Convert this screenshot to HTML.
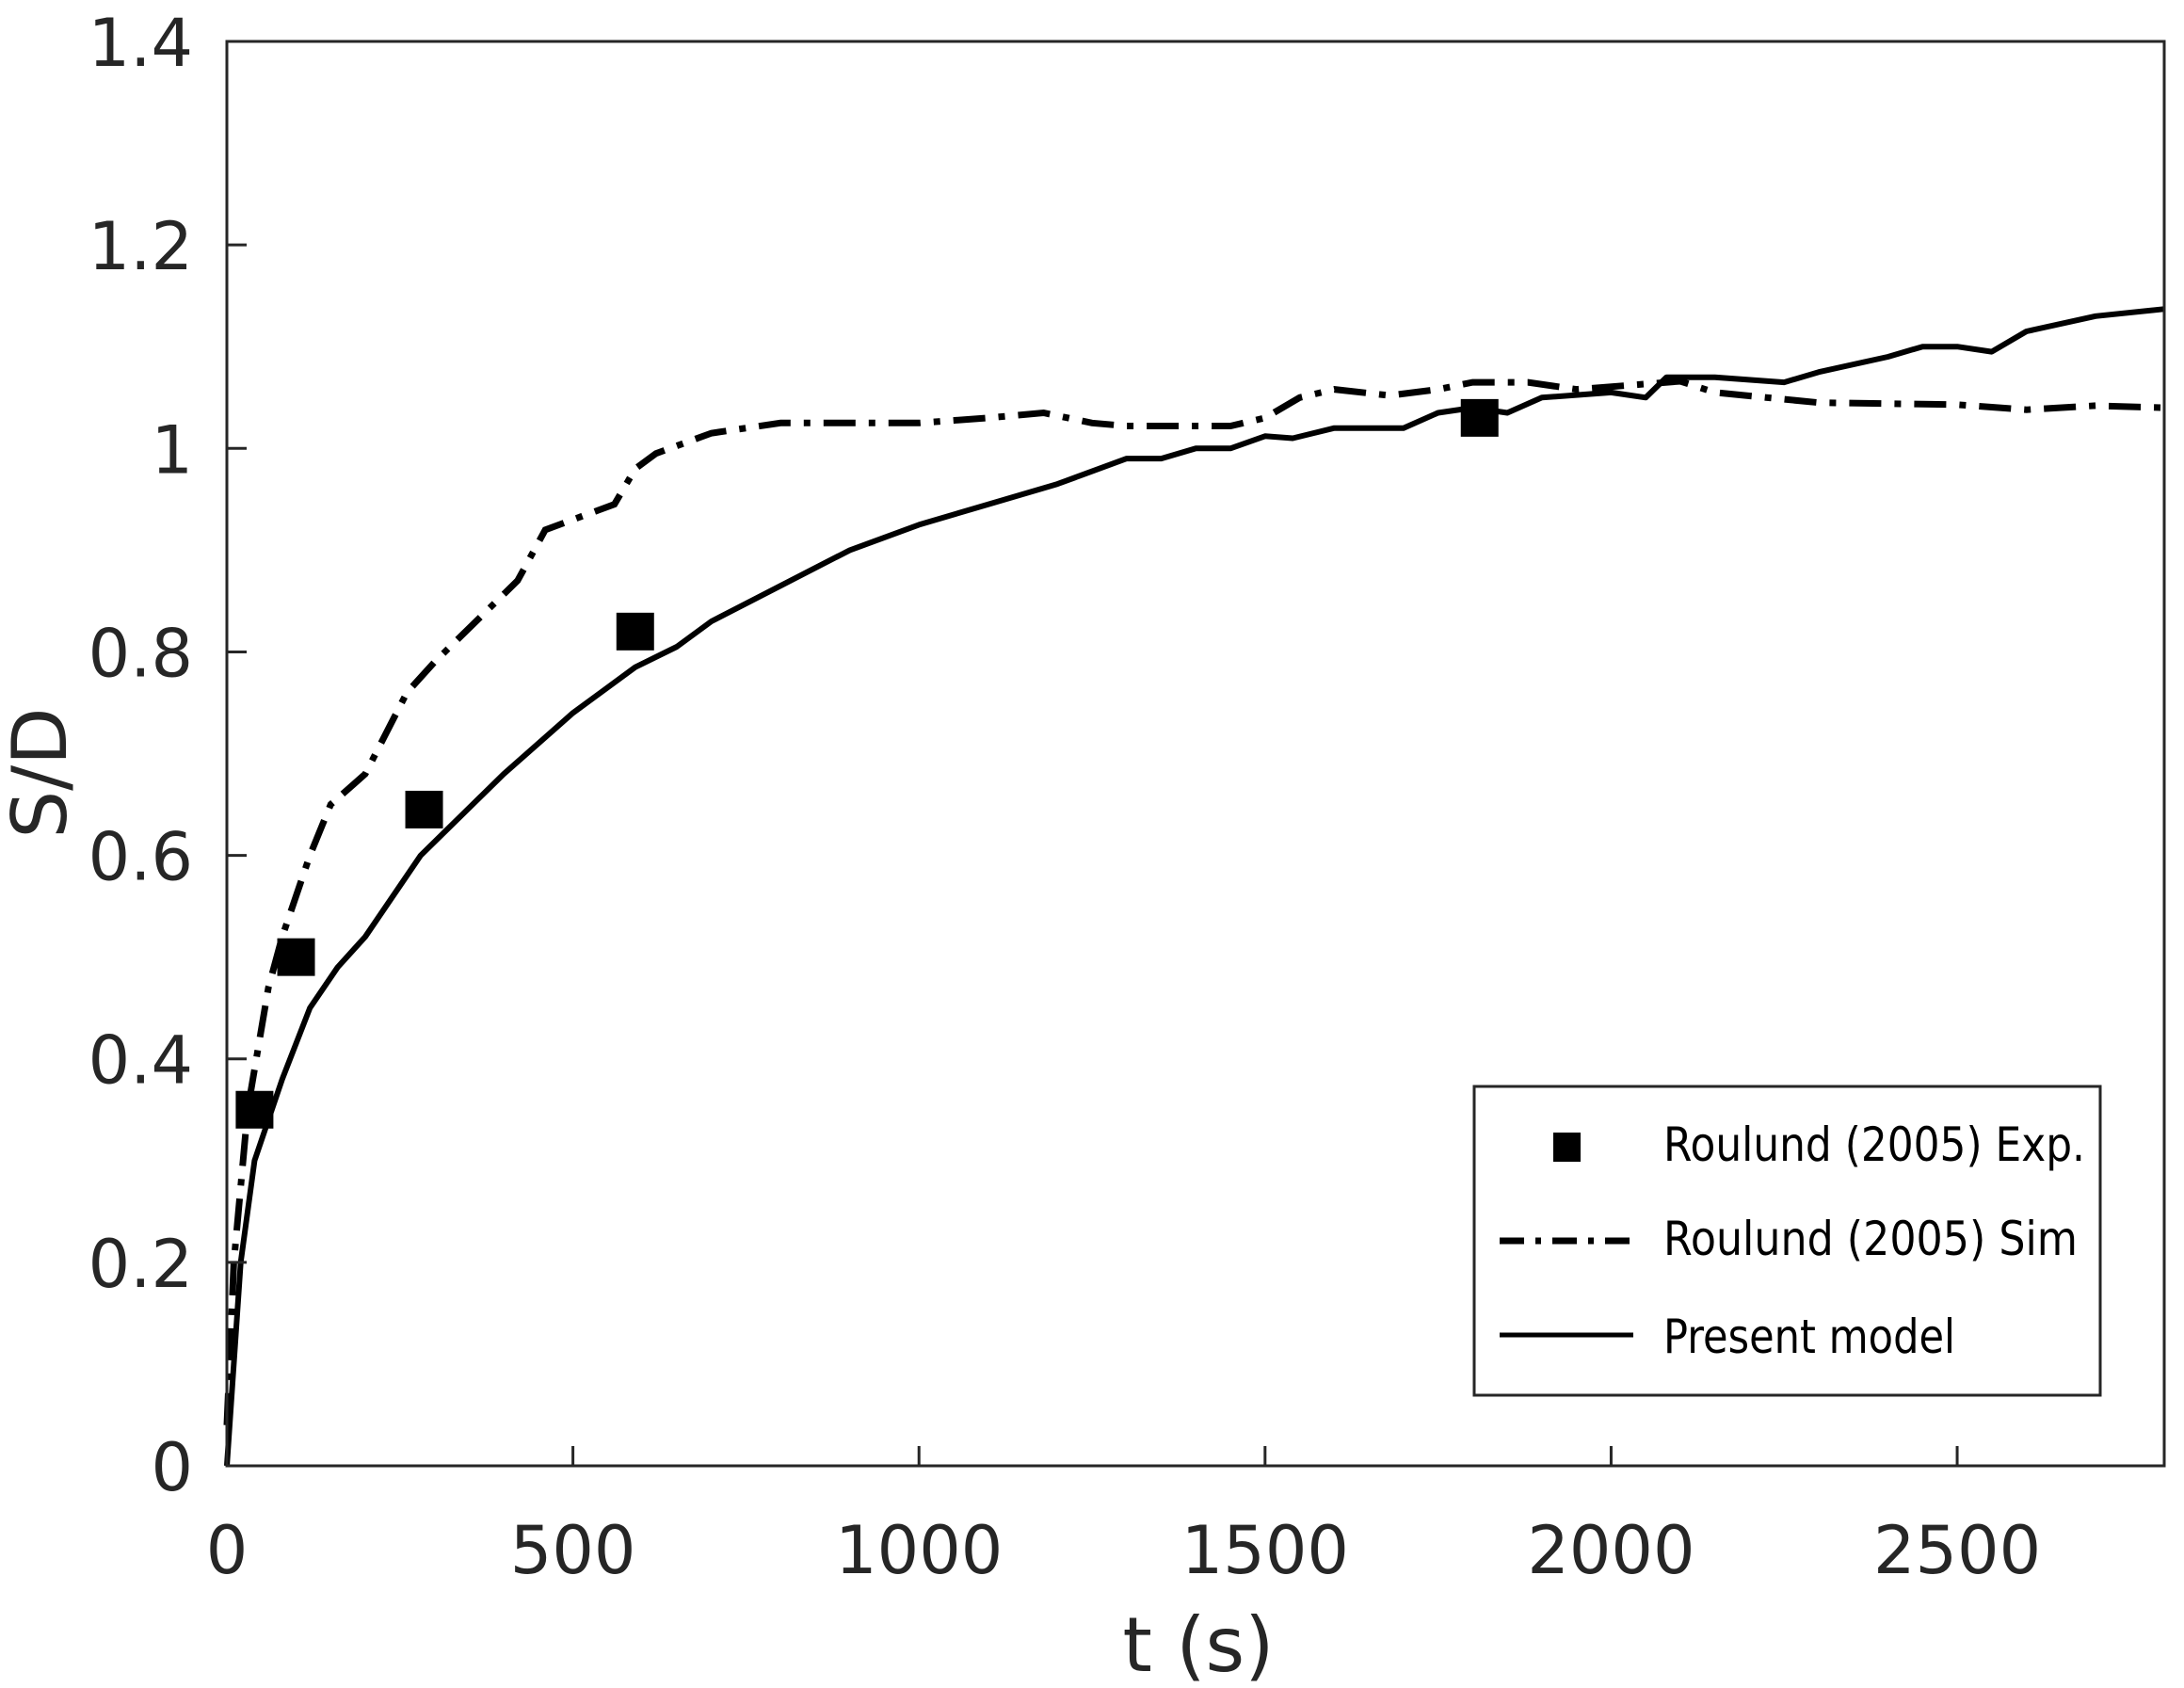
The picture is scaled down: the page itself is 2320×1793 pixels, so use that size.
<!DOCTYPE html>
<html><head><meta charset="utf-8"><style>html,body{margin:0;padding:0;background:#fff}svg{display:block}</style></head>
<body>
<svg id="s" width="2320" height="1793" xmlns="http://www.w3.org/2000/svg" font-family="DejaVu Sans, Liberation Sans, sans-serif">
<rect width="2320" height="1793" fill="#fff"/>
<g id="plot"></g>
<rect x="241" y="44" width="2058" height="1513" fill="none" stroke="#262626" stroke-width="3"/>
<g id="ticks" stroke="#262626" stroke-width="3"></g>
<g id="labels" fill="#262626" font-size="70"></g>
<text x="1273" y="1775" font-size="80" text-anchor="middle" fill="#262626">t (s)</text>
<text transform="translate(70,821) rotate(-90)" font-size="80" text-anchor="middle" fill="#262626">S/D</text>
<rect x="1566" y="1154" width="665" height="328" fill="#fff" stroke="#262626" stroke-width="3"/>
<rect x="1650" y="1203" width="29" height="31" fill="#000"/>
<line x1="1593" y1="1318" x2="1735" y2="1318" stroke="#000" stroke-width="7" stroke-dasharray="26 12 6 12"/>
<line x1="1593" y1="1418" x2="1735" y2="1418" stroke="#000" stroke-width="5"/>
<g font-size="50" fill="#000">
<text x="1767" y="1233" textLength="448" lengthAdjust="spacingAndGlyphs">Roulund (2005) Exp.</text>
<text x="1767" y="1333" textLength="440" lengthAdjust="spacingAndGlyphs">Roulund (2005) Sim</text>
<text x="1767" y="1437" textLength="310" lengthAdjust="spacingAndGlyphs">Present model</text>
</g>
</svg>
<script>
var X=function(t){return 241+t*0.73522},Y=function(v){return 1557-v*1080.7};
var ns="http://www.w3.org/2000/svg";
function el(p,n,a){var e=document.createElementNS(ns,n);for(var k in a)e.setAttribute(k,a[k]);p.appendChild(e);return e}
var solid=[[0,0],[20,0.2],[40,0.3],[80,0.38],[120,0.45],[160,0.49],[200,0.52],[280,0.6],[400,0.68],[500,0.74],[590,0.785],[650,0.805],[700,0.83],[800,0.865],[900,0.9],[1000,0.925],[1100,0.945],[1200,0.965],[1300,0.99],[1350,0.99],[1400,1.0],[1450,1.0],[1500,1.012],[1540,1.01],[1600,1.02],[1700,1.02],[1750,1.035],[1800,1.04],[1850,1.035],[1900,1.05],[2000,1.055],[2050,1.05],[2080,1.07],[2150,1.07],[2250,1.065],[2300,1.075],[2400,1.09],[2450,1.1],[2500,1.1],[2550,1.095],[2600,1.115],[2700,1.13],[2800,1.137]];
var dd=[[0,0.04],[10,0.2],[30,0.35],[60,0.47],[80,0.52],[120,0.6],[150,0.65],[200,0.68],[260,0.76],[300,0.79],[360,0.83],[420,0.87],[460,0.92],[520,0.935],[560,0.945],[590,0.98],[620,0.995],[700,1.015],[800,1.025],[1000,1.025],[1100,1.03],[1180,1.035],[1250,1.025],[1300,1.022],[1450,1.022],[1500,1.03],[1550,1.05],[1600,1.058],[1680,1.052],[1750,1.058],[1800,1.065],[1880,1.065],[1950,1.058],[2100,1.066],[2150,1.055],[2300,1.045],[2500,1.043],[2600,1.038],[2700,1.042],[2800,1.04]];
function pts(a){return a.map(function(p){return X(p[0]).toFixed(1)+","+Y(p[1]).toFixed(1)}).join(" ")}
var g=document.getElementById("plot");
el(g,"polyline",{points:pts(dd),fill:"none",stroke:"#000","stroke-width":7,"stroke-dasharray":"34 14 7 14"});
el(g,"polyline",{points:pts(solid),fill:"none",stroke:"#000","stroke-width":6,"stroke-linejoin":"round"});
[[40,0.35],[100,0.5],[285,0.645],[590,0.82],[1810,1.03]].forEach(function(p){el(g,"rect",{x:X(p[0])-20,y:Y(p[1])-20,width:40,height:40,fill:"#000"})});
var tk=document.getElementById("ticks"),lb=document.getElementById("labels");
for(var i=0;i<=7;i++){var v=i*0.2,y=Y(v);if(i>0&&i<7)el(tk,"line",{x1:241,y1:y,x2:262,y2:y});
var t=el(lb,"text",{x:205,y:y+26,"text-anchor":"end"});t.textContent=(i==0?"0":(i==5?"1":v.toFixed(1)));}
for(var j=0;j<=5;j++){var x=X(j*500);if(j>0)el(tk,"line",{x1:x,y1:1557,x2:x,y2:1536});
var t2=el(lb,"text",{x:x,y:1671,"text-anchor":"middle"});t2.textContent=j*500;}
</script>
</body></html>
